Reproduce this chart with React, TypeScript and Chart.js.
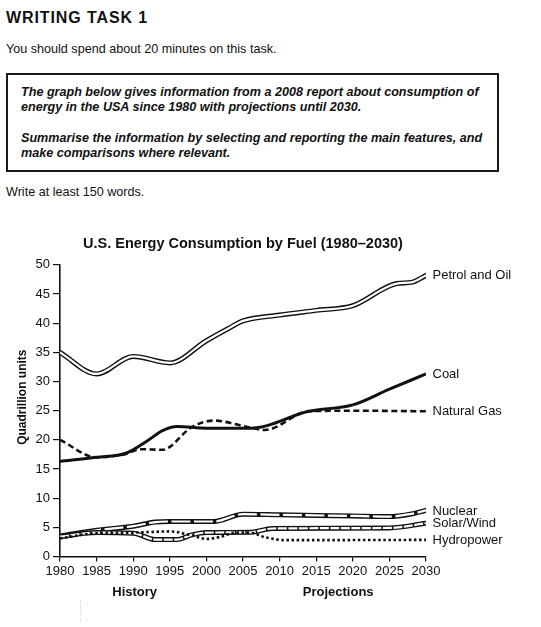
import React, { useEffect, useRef } from "react";
import { Chart, registerables } from "chart.js";

Chart.register(...registerables);

// ---- Text content ----
const heading = "WRITING TASK 1";
const instruction = "You should spend about 20 minutes on this task.";
const promptLines1 = [
  "The graph below gives information from a 2008 report about consumption of",
  "energy in the USA since 1980 with projections until 2030.",
];
const promptLines2 = [
  "Summarise the information by selecting and reporting the main features, and",
  "make comparisons where relevant.",
];
const footer = "Write at least 150 words.";

const chartTitle = "U.S. Energy Consumption by Fuel (1980–2030)";
const yAxisTitle = "Quadrillion units";
const periodLabels = ["History", "Projections"];
const periodCenters = [1990.2, 2018];

const xMin = 1980;
const xMax = 2030;
const xStep = 5;
const yMin = 0;
const yMax = 50;
const yStep = 5;

// ---- Data ----
const petrolYears = [1980, 1985, 1990, 1995, 2000, 2003, 2005, 2010, 2015, 2020, 2026, 2028, 2030];
const petrolValues = [35.0, 31.3, 34.3, 33.2, 37.0, 39.1, 40.4, 41.4, 42.2, 43.0, 46.8, 47.0, 48.2];

const coalYears = [1980, 1985, 1989, 1992, 1994, 1996, 2000, 2006, 2014, 2020, 2025, 2030];
const coalValues = [16.3, 17.0, 17.7, 19.9, 21.6, 22.3, 22.0, 22.0, 24.9, 26.0, 28.7, 31.3];

const gasYears = [1980, 1985, 1989, 1991, 1994, 1998, 2001, 2006, 2008, 2014, 2020, 2030];
const gasValues = [20.0, 17.0, 17.6, 18.4, 18.3, 22.2, 23.3, 22.1, 21.7, 24.9, 25.0, 24.9];

const nuclearYears = [1980, 1985, 1990, 1993, 1995, 2001, 2005, 2010, 2015, 2020, 2025, 2028, 2030];
const nuclearValues = [3.5, 4.5, 5.2, 5.9, 6.0, 6.0, 7.25, 7.15, 7.05, 6.95, 6.85, 7.3, 7.9];

const solarYears = [1980, 1985, 1990, 1993, 1996, 1998, 2000, 2006, 2009, 2025, 2030];
const solarValues = [3.4, 4.1, 4.0, 2.9, 2.9, 3.7, 4.1, 4.15, 4.8, 4.9, 5.7];

const hydroYears = [1980, 1985, 1990, 1995, 1998, 2000, 2002, 2004, 2006, 2008, 2011, 2030];
const hydroValues = [3.1, 4.0, 4.1, 4.3, 3.6, 3.0, 3.4, 4.1, 4.1, 3.3, 2.8, 2.85];

const seriesLabels = ["Petrol and Oil", "Coal", "Natural Gas", "Nuclear", "Solar/Wind", "Hydropower"];
const seriesYears = [petrolYears, coalYears, gasYears, nuclearYears, solarYears, hydroYears];
const seriesValues = [petrolValues, coalValues, gasValues, nuclearValues, solarValues, hydroValues];

// ---- Styles ----
const FONT = "'Liberation Sans', Arial, Helvetica, sans-serif";
const INK = "#111";
type Kind = "double" | "solid" | "dashed" | "doubleSquares" | "doubleSlashes" | "dotted";
const seriesKinds: Kind[] = ["double", "solid", "dashed", "doubleSquares", "doubleSlashes", "dotted"];

function buildDatasets() {
  const out: any[] = [];
  seriesLabels.forEach((label, i) => {
    const data = seriesYears[i].map((yr, j) => ({ x: yr, y: seriesValues[i][j] }));
    const kind = seriesKinds[i];
    const base = {
      label,
      data,
      pointRadius: 0,
      pointHoverRadius: 0,
      fill: false,
      cubicInterpolationMode: "monotone",
    };
    const ord = (seriesLabels.length - i) * 2;
    if (kind === "double" || kind === "doubleSquares" || kind === "doubleSlashes") {
      out.push({
        ...base,
        borderColor: INK,
        borderWidth: 5,
        borderCapStyle: "round",
        borderJoinStyle: "round",
        order: ord + 1,
      });
      out.push({
        ...base,
        label: label + " core",
        borderColor: "#fff",
        borderWidth: 2.2,
        borderCapStyle: kind === "double" ? "round" : "butt",
        borderJoinStyle: "round",
        borderDash: kind === "doubleSquares" ? [19, 3.5] : kind === "doubleSlashes" ? [9, 1.5] : [],
        order: ord,
      });
    } else if (kind === "solid") {
      out.push({ ...base, borderColor: INK, borderWidth: 3, order: ord });
    } else if (kind === "dashed") {
      out.push({ ...base, borderColor: INK, borderWidth: 2.6, borderDash: [6, 3.5], order: ord });
    } else {
      out.push({ ...base, borderColor: INK, borderWidth: 2.6, borderDash: [2.5, 2.6], order: ord });
    }
  });
  return out;
}

const annotationsPlugin = {
  id: "annotationsPlugin",
  afterDatasetsDraw(chart: any) {
    const { ctx, chartArea, scales } = chart;
    const xs = scales.x;
    const ys = scales.y;
    ctx.save();
    ctx.fillStyle = INK;
    // series end labels
    ctx.font = `13px ${FONT}`;
    ctx.textBaseline = "middle";
    ctx.textAlign = "left";
    seriesLabels.forEach((label, i) => {
      const vals = seriesValues[i];
      const v = vals[vals.length - 1];
      ctx.fillText(label, chartArea.right + 6.5, ys.getPixelForValue(v) + 0.5);
    });
    // History / Projections
    ctx.font = `bold 13px ${FONT}`;
    ctx.textAlign = "center";
    periodLabels.forEach((t, i) => {
      ctx.fillText(t, xs.getPixelForValue(periodCenters[i]), chartArea.bottom + 35.5);
    });
    // y-axis title
    ctx.translate(23, (chartArea.top + chartArea.bottom) / 2 - 13.5);
    ctx.rotate(-Math.PI / 2);
    ctx.font = `bold 12px ${FONT}`;
    ctx.textAlign = "center";
    ctx.fillText(yAxisTitle, 0, 0);
    ctx.restore();
  },
};

function EnergyChart() {
  const ref = useRef<HTMLCanvasElement | null>(null);
  useEffect(() => {
    if (!ref.current) return;
    const chart = new Chart(ref.current, {
      type: "line",
      data: { datasets: buildDatasets() },
      options: {
        responsive: false,
        animation: false,
        devicePixelRatio: 1,
        layout: { padding: { left: 0, right: 115, top: 0, bottom: 0 } },
        plugins: {
          legend: { display: false },
          tooltip: { enabled: false },
          title: {
            display: true,
            text: chartTitle,
            fullSize: false,
            color: INK,
            font: { family: FONT, size: 14.5, weight: "bold" },
            padding: { top: 6.8, bottom: 12.7 },
          },
        },
        scales: {
          x: {
            type: "linear",
            min: xMin,
            max: xMax,
            ticks: {
              stepSize: xStep,
              color: INK,
              font: { family: FONT, size: 13 },
              padding: 2,
              maxRotation: 0,
              callback: (v: any) => String(v),
            },
            grid: { drawOnChartArea: false, tickLength: 5, color: INK, tickColor: INK, lineWidth: 1.2 },
            border: { display: true, color: INK, width: 1.6 },
            afterFit: (s: any) => {
              s.height = 70.5;
            },
          },
          y: {
            type: "linear",
            min: yMin,
            max: yMax,
            ticks: {
              stepSize: yStep,
              color: INK,
              font: { family: FONT, size: 13 },
              padding: 3,
            },
            grid: { drawOnChartArea: false, tickLength: 7, color: INK, tickColor: INK, lineWidth: 1.2 },
            border: { display: true, color: INK, width: 1.6 },
            afterFit: (s: any) => {
              s.width = 60;
            },
          },
        },
      } as any,
      plugins: [annotationsPlugin],
    });
    return () => chart.destroy();
  }, []);
  return (
    <canvas
      ref={ref}
      width={541}
      height={399}
      style={{ position: "absolute", left: 0, top: 228, width: 541, height: 399 }}
    />
  );
}

export default function App() {
  const boxText: React.CSSProperties = {
    position: "absolute",
    left: 21,
    fontSize: 12.6,
    lineHeight: "15px",
    fontWeight: "bold",
    fontStyle: "italic",
    whiteSpace: "nowrap",
  };
  return (
    <div
      style={{
        position: "absolute",
        left: 0,
        top: 0,
        width: 541,
        height: 627,
        background: "#fff",
        color: INK,
        fontFamily: FONT,
        overflow: "hidden",
      }}
    >
      <div
        style={{
          position: "absolute",
          left: 6,
          top: 9.8,
          fontSize: 16,
          lineHeight: "16px",
          fontWeight: "bold",
          letterSpacing: "0.9px",
          whiteSpace: "nowrap",
        }}
      >
        {heading}
      </div>
      <div style={{ position: "absolute", left: 6, top: 42.4, fontSize: 12.6, lineHeight: "15px", whiteSpace: "nowrap" }}>
        {instruction}
      </div>
      <div
        style={{
          position: "absolute",
          left: 6,
          top: 73,
          width: 493,
          height: 99,
          boxSizing: "border-box",
          border: "2px solid #1a1a1a",
        }}
      />
      {promptLines1.map((t, i) => (
        <div key={"a" + i} style={{ ...boxText, top: 85.4 + i * 15 }}>
          {t}
        </div>
      ))}
      {promptLines2.map((t, i) => (
        <div key={"b" + i} style={{ ...boxText, top: 130.8 + i * 15 }}>
          {t}
        </div>
      ))}
      <div style={{ position: "absolute", left: 6, top: 185.4, fontSize: 12.6, lineHeight: "15px", whiteSpace: "nowrap" }}>
        {footer}
      </div>
      <EnergyChart />
      <div
        style={{
          position: "absolute",
          left: 80,
          top: 600,
          height: 22,
          borderLeft: "1px dotted #d8d8d8",
        }}
      />
    </div>
  );
}
